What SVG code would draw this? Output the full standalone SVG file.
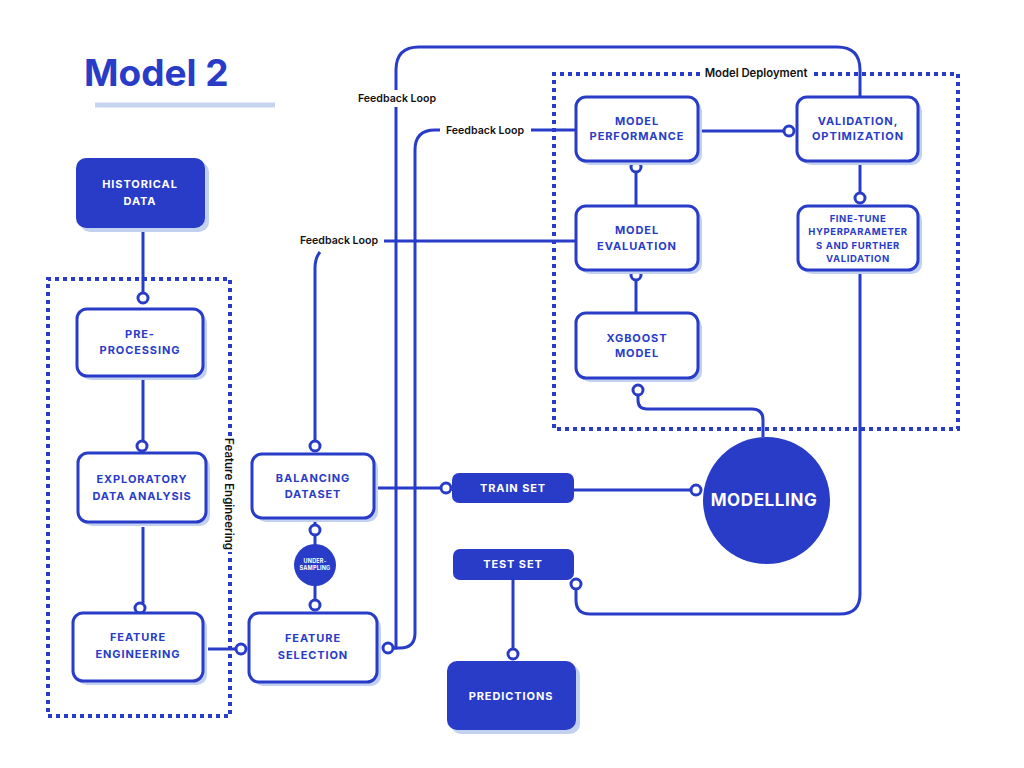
<svg xmlns="http://www.w3.org/2000/svg" width="1024" height="768" viewBox="0 0 1024 768">
<style>
.box{fill:#fff;stroke:#283cc8;stroke-width:3}
.fill{fill:#283cc8}
.sh{fill:#c3d1f0}
.lbl{font-family:Inter,"Liberation Sans",sans-serif;font-weight:700;font-size:11px;fill:#283cc8;text-anchor:middle;letter-spacing:0.9px}
.wl{font-family:Inter,"Liberation Sans",sans-serif;font-weight:700;font-size:11px;fill:#fff;text-anchor:middle;letter-spacing:0.9px}
.fb{font-family:Inter,"Liberation Sans",sans-serif;font-weight:600;font-size:10.6px;fill:#111;text-anchor:middle}
.ln{fill:none;stroke:#283cc8;stroke-width:3}
.dot{fill:none;stroke:#283cc8;stroke-width:4;stroke-dasharray:4 4}
.c{fill:#fff;stroke:#283cc8;stroke-width:3}
</style>
<rect width="1024" height="768" fill="#fff"/>
<text x="84" y="86" font-family="Inter,'Liberation Sans',sans-serif" font-weight="700" font-size="37" fill="#283cc8">Model 2</text>
<line x1="95" y1="105" x2="275" y2="105" stroke="#c5d3f0" stroke-width="5"/>

<g id="groups">
<path class="dot" d="M230 436 V279 H48 V716 H230 V552"/>
<text class="fb" transform="translate(229 494) rotate(90)" dy="3.8" style="font-size:11.5px">Feature Engineering</text>
<path class="dot" d="M700 74 H554 V429 H958 V74 H812"/>
<text class="fb" x="756" y="77" style="font-size:11.3px">Model Deployment</text>
</g>

<g id="connectors">
<line class="ln" x1="143" y1="228" x2="143" y2="293"/>
<line class="ln" x1="143" y1="376" x2="143" y2="441"/>
<line class="ln" x1="143" y1="527" x2="143" y2="603"/>
<line class="ln" x1="208" y1="649" x2="236" y2="649"/>
<line class="ln" x1="315" y1="518" x2="315" y2="600"/>
<line class="ln" x1="374" y1="488" x2="441" y2="488"/>
<line class="ln" x1="574" y1="490" x2="691" y2="490"/>
<line class="ln" x1="513" y1="580" x2="513" y2="649"/>
<line class="ln" x1="700" y1="131" x2="784" y2="131"/>
<line class="ln" x1="860" y1="161" x2="860" y2="193"/>
<line class="ln" x1="636" y1="172" x2="636" y2="206"/>
<line class="ln" x1="636" y1="270" x2="636" y2="313"/>
<path class="ln" d="M638 395 V400 Q638 409 647 409 H752 Q763 409 763 420 V437"/>
<path class="ln" d="M860 270 V594 Q860 614 840 614 H590 Q576 614 576 600 V589"/>
<path class="ln" d="M393 648 H396 V107"/>
<path class="ln" d="M396 90 V70 Q396 47 419 47 H837 Q860 47 860 70 V97"/>
<path class="ln" d="M393 648 H400 Q415 648 415 633 V150 Q415 130 435 130 H440"/>
<line class="ln" x1="531" y1="130" x2="576" y2="130"/>
<line class="ln" x1="384" y1="241" x2="576" y2="241"/>
<path class="ln" d="M320 252 Q315 258 315 268 V441"/>
<text class="fb" x="397" y="102">Feedback Loop</text>
<text class="fb" x="485" y="134">Feedback Loop</text>
<text class="fb" x="339" y="244">Feedback Loop</text>
<circle class="c" cx="143" cy="298" r="5"/>
<circle class="c" cx="142" cy="446" r="5"/>
<circle class="c" cx="140" cy="608" r="5"/>
<circle class="c" cx="241" cy="649" r="5"/>
<circle class="c" cx="315" cy="446" r="5"/>
<circle class="c" cx="315" cy="530" r="5"/>
<circle class="c" cx="315" cy="605" r="5"/>
<circle class="c" cx="388" cy="648" r="5"/>
<circle class="c" cx="446" cy="488" r="5"/>
<circle class="c" cx="696" cy="490" r="5"/>
<circle class="c" cx="513" cy="654" r="5"/>
<circle class="c" cx="576" cy="584" r="5"/>
<circle class="c" cx="789" cy="131" r="5"/>
<circle class="c" cx="860" cy="198" r="5"/>
<circle class="c" cx="636" cy="167" r="5"/>
<circle class="c" cx="636" cy="275" r="5"/>
<circle class="c" cx="638" cy="390" r="5"/>
</g>

<g id="historical">
<rect class="sh" x="80" y="162" width="129" height="70" rx="10"/>
<rect class="fill" x="76" y="158" width="129" height="70" rx="10"/>
<text class="wl" x="140" y="188">HISTORICAL</text>
<text class="wl" x="140" y="205">DATA</text>
</g>
<g id="preprocessing">
<rect class="sh" x="81" y="313" width="126" height="67" rx="10"/>
<rect class="box" x="77" y="309" width="126" height="67" rx="10"/>
<text class="lbl" x="140" y="338">PRE-</text>
<text class="lbl" x="140" y="354">PROCESSING</text>
</g>
<g id="eda">
<rect class="sh" x="82" y="457" width="128" height="69" rx="10"/>
<rect class="box" x="78" y="453" width="128" height="69" rx="10"/>
<text class="lbl" x="142" y="483">EXPLORATORY</text>
<text class="lbl" x="142" y="500">DATA ANALYSIS</text>
</g>
<g id="feature-engineering">
<rect class="sh" x="77" y="617" width="130" height="68" rx="10"/>
<rect class="box" x="73" y="613" width="130" height="68" rx="10"/>
<text class="lbl" x="138" y="641">FEATURE</text>
<text class="lbl" x="138" y="658">ENGINEERING</text>
</g>
<g id="feature-selection">
<rect class="sh" x="253" y="617" width="128" height="69" rx="10"/>
<rect class="box" x="249" y="613" width="128" height="69" rx="10"/>
<text class="lbl" x="313" y="642">FEATURE</text>
<text class="lbl" x="313" y="659">SELECTION</text>
</g>
<g id="balancing">
<rect class="sh" x="256" y="458" width="122" height="64" rx="10"/>
<rect class="box" x="252" y="454" width="122" height="64" rx="10"/>
<text class="lbl" x="313" y="482">BALANCING</text>
<text class="lbl" x="313" y="498">DATASET</text>
</g>
<g id="undersampling">
<circle class="fill" cx="315" cy="565" r="21"/>
<text class="wl" x="315" y="563" style="font-size:5.5px;letter-spacing:0.2px">UNDER-</text>
<text class="wl" x="315" y="570" style="font-size:5.5px;letter-spacing:0.2px">SAMPLING</text>
</g>
<g id="train-set">
<rect class="fill" x="452" y="473" width="122" height="30" rx="7"/>
<text class="wl" x="513" y="492">TRAIN SET</text>
</g>
<g id="test-set">
<rect class="fill" x="453" y="549" width="121" height="31" rx="7"/>
<text class="wl" x="513" y="568">TEST SET</text>
</g>
<g id="predictions">
<rect class="sh" x="451" y="665" width="129" height="69" rx="10"/>
<rect class="fill" x="447" y="661" width="129" height="69" rx="10"/>
<text class="wl" x="511" y="700">PREDICTIONS</text>
</g>
<g id="modelling">
<circle class="fill" cx="766.5" cy="500.5" r="63.5"/>
<text class="wl" x="764" y="506" style="font-size:17px;letter-spacing:0.6px">MODELLING</text>
</g>
<g id="model-performance">
<rect class="sh" x="580" y="101" width="122" height="64" rx="10"/>
<rect class="box" x="576" y="97" width="122" height="64" rx="10"/>
<text class="lbl" x="637" y="125">MODEL</text>
<text class="lbl" x="637" y="140">PERFORMANCE</text>
</g>
<g id="validation">
<rect class="sh" x="801" y="101" width="121" height="64" rx="10"/>
<rect class="box" x="797" y="97" width="121" height="64" rx="10"/>
<text class="lbl" x="858" y="125">VALIDATION,</text>
<text class="lbl" x="858" y="140">OPTIMIZATION</text>
</g>
<g id="model-evaluation">
<rect class="sh" x="580" y="210" width="122" height="64" rx="10"/>
<rect class="box" x="576" y="206" width="122" height="64" rx="10"/>
<text class="lbl" x="637" y="234">MODEL</text>
<text class="lbl" x="637" y="250">EVALUATION</text>
</g>
<g id="fine-tune">
<rect class="sh" x="802" y="210" width="120" height="64" rx="10"/>
<rect class="box" x="798" y="206" width="120" height="64" rx="10"/>
<text class="lbl" x="858" y="222" style="font-size:9.5px;letter-spacing:0.6px">FINE-TUNE</text>
<text class="lbl" x="858" y="235" style="font-size:9.5px;letter-spacing:0.6px">HYPERPARAMETER</text>
<text class="lbl" x="858" y="248.5" style="font-size:9.5px;letter-spacing:0.6px">S AND FURTHER</text>
<text class="lbl" x="858" y="262" style="font-size:9.5px;letter-spacing:0.6px">VALIDATION</text>
</g>
<g id="xgboost">
<rect class="sh" x="580" y="317" width="122" height="65" rx="10"/>
<rect class="box" x="576" y="313" width="122" height="65" rx="10"/>
<text class="lbl" x="637" y="342">XGBOOST</text>
<text class="lbl" x="637" y="357">MODEL</text>
</g>
</svg>
